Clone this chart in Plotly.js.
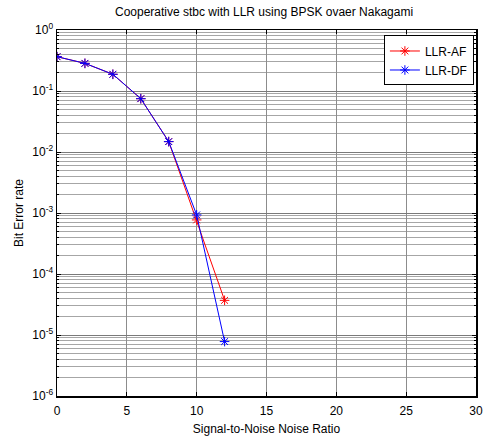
<!DOCTYPE html>
<html>
<head>
<meta charset="utf-8">
<script src="https://cdn.plot.ly/plotly-3.0.1.min.js"></script>
<style>html,body{margin:0;padding:0;background:#fff;}#chart{width:489px;height:438px;}</style>
</head>
<body>
<div id="chart"></div>
<script>
var snr = [0, 2, 4, 6, 8, 10, 12];
var berAF = [0.365, 0.284, 0.188, 0.0748, 0.0148, 0.00077, 0.000037];
var berDF = [0.365, 0.284, 0.188, 0.0748, 0.0148, 0.00093, 0.0000078];
var yTickVals = [1e-6, 1e-5, 1e-4, 1e-3, 1e-2, 1e-1, 1];
var yTickText = ['10<sup>-6</sup>', '10<sup>-5</sup>', '10<sup>-4</sup>', '10<sup>-3</sup>', '10<sup>-2</sup>', '10<sup>-1</sup>', '10<sup>0</sup>'];
var xTickVals = [0, 5, 10, 15, 20, 25, 30];

var traces = [
  {x: snr, y: berAF, name: 'LLR-AF', mode: 'lines+markers', type: 'scatter',
   line: {color: '#ff0000', width: 1}, marker: {symbol: 'asterisk-open', size: 8, color: '#ff0000', line: {color: '#ff0000', width: 1}}},
  {x: snr, y: berDF, name: 'LLR-DF', mode: 'lines+markers', type: 'scatter',
   line: {color: '#0000ff', width: 1}, marker: {symbol: 'asterisk-open', size: 8, color: '#0000ff', line: {color: '#0000ff', width: 1}}}
];

var layout = {
  width: 489, height: 438,
  margin: {l: 57, r: 13, t: 30, b: 42},
  paper_bgcolor: '#ffffff', plot_bgcolor: '#ffffff',
  font: {family: 'Liberation Sans, Arial, sans-serif', size: 12, color: '#000'},
  title: {text: 'Cooperative stbc with LLR using BPSK ovaer Nakagami', font: {size: 12, color: '#000'}, x: 0.54, xanchor: 'center', y: 0.982, yanchor: 'top'},
  xaxis: {
    range: [0, 30], tickvals: xTickVals, ticktext: xTickVals.map(String),
    showline: true, linecolor: '#000', linewidth: 1.5, mirror: 'ticks',
    ticks: 'inside', ticklen: 4, tickcolor: '#000', ticklabelstandoff: 3,
    showgrid: true, gridcolor: '#8c8c8c', gridwidth: 1, zeroline: false,
    title: {text: 'Signal-to-Noise Noise Ratio', font: {size: 12}, standoff: 7},
    tickfont: {size: 12}
  },
  yaxis: {
    type: 'log', range: [-6, 0], tickvals: yTickVals, ticktext: yTickText,
    showline: true, linecolor: '#000', linewidth: 1.5, mirror: 'ticks',
    ticks: 'inside', ticklen: 4, tickcolor: '#000',
    showgrid: true, gridcolor: '#7a7a7a', gridwidth: 1, zeroline: false,
    minor: {dtick: 'D1', showgrid: true, gridcolor: '#a6a6a6', gridwidth: 1, ticks: 'inside', ticklen: 2, tickcolor: '#000'},
    title: {text: 'Bit Error rate', font: {size: 12}, standoff: 6},
    tickfont: {size: 12}
  },
  legend: {x: 0.995, xanchor: 'right', y: 0.985, yanchor: 'top', bgcolor: '#ffffff', bordercolor: '#000', borderwidth: 1, font: {size: 12}},
  showlegend: true
};

Plotly.newPlot('chart', traces, layout, {displayModeBar: false, staticPlot: true});
</script>
</body>
</html>
